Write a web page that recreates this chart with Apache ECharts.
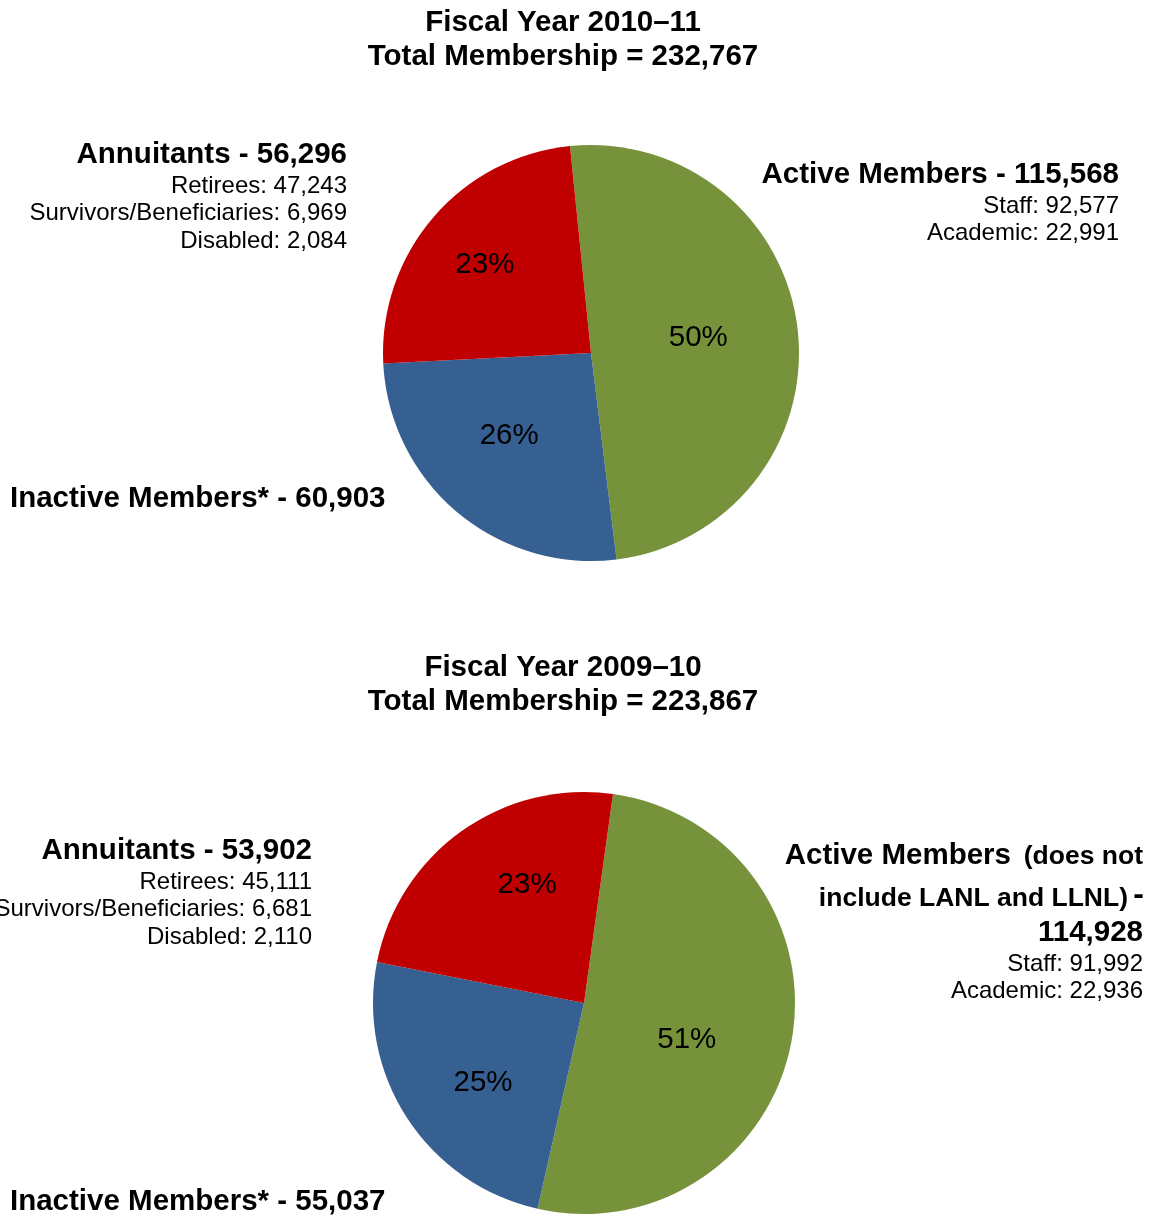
<!DOCTYPE html>
<html>
<head>
<meta charset="utf-8">
<script src="https://cdn.jsdelivr.net/npm/echarts@6/dist/echarts.min.js"></script>
<style>
  html, body { margin: 0; padding: 0; background: #fff; }
  #chart { width: 1152px; height: 1216px; }
</style>
</head>
<body>
<div id="chart"></div>
<script>
// Membership by category, two fiscal years
const categories = ['Active Members', 'Inactive Members*', 'Annuitants'];
const sliceColors = ['#76933C', '#366092', '#C00000'];

const fy1011Label = 'Fiscal Year 2010–11';
const fy1011Values = [115568, 60903, 56296];
const fy1011Pct = ['50%', '26%', '23%'];
const fy1011Active = { Staff: 92577, Academic: 22991 };
const fy1011Annuitants = { 'Retirees': 47243, 'Survivors/Beneficiaries': 6969, 'Disabled': 2084 };

const fy0910Label = 'Fiscal Year 2009–10';
const fy0910Values = [114928, 55037, 53902];
const fy0910Pct = ['51%', '25%', '23%'];
const fy0910Active = { Staff: 91992, Academic: 22936 };
const fy0910Annuitants = { 'Retirees': 45111, 'Survivors/Beneficiaries': 6681, 'Disabled': 2110 };

const FF = '"Liberation Sans", Arial, Helvetica, sans-serif';
const HEAD = 29.5;   // bold headings
const SUB = 24;      // detail lines
const fmt = v => v.toLocaleString('en-US');
const sum = a => a.reduce((s, v) => s + v, 0);

function txt(x, y, text, size, bold, align) {
  return {
    type: 'text', x: x, y: y + 2, silent: true,
    style: {
      text: text, fill: '#000',
      font: (bold ? 'bold ' : '') + size + 'px ' + FF,
      align: align || 'left', verticalAlign: 'middle'
    }
  };
}

function pieSeries(values, pct, center, radius, startAngle, shifts) {
  return {
    type: 'pie',
    center: center,
    radius: radius,
    startAngle: startAngle,
    clockwise: true,
    silent: true,
    animation: false,
    itemStyle: { borderWidth: 0 },
    emphasis: { disabled: true },
    label: {
      show: true, position: 'inside',
      color: '#000', fontSize: HEAD, fontFamily: FF, fontWeight: 'normal',
      formatter: p => pct[p.dataIndex]
    },
    labelLine: { show: false },
    labelLayout: p => ({ dx: shifts[p.dataIndex][0], dy: shifts[p.dataIndex][1] }),
    data: values.map((v, i) => ({ name: categories[i], value: v, itemStyle: { color: sliceColors[i] } }))
  };
}

const graphics = [];
// Upper chart texts
graphics.push(txt(563, 21, fy1011Label, HEAD, true, 'center'));
graphics.push(txt(563, 55, 'Total Membership = ' + fmt(sum(fy1011Values)), HEAD, true, 'center'));
graphics.push(txt(347, 153, categories[2] + ' - ' + fmt(fy1011Values[2]), HEAD, true, 'right'));
Object.keys(fy1011Annuitants).forEach((k, i) => {
  graphics.push(txt(347, 184 + i * 27.5, k + ': ' + fmt(fy1011Annuitants[k]), SUB, false, 'right'));
});
graphics.push(txt(1119, 173, categories[0] + ' - ' + fmt(fy1011Values[0]), HEAD, true, 'right'));
Object.keys(fy1011Active).forEach((k, i) => {
  graphics.push(txt(1119, 204 + i * 27.5, k + ': ' + fmt(fy1011Active[k]), SUB, false, 'right'));
});
graphics.push(txt(10, 497, categories[1] + ' - ' + fmt(fy1011Values[1]), HEAD, true, 'left'));

// Lower chart texts
graphics.push(txt(563, 666, fy0910Label, HEAD, true, 'center'));
graphics.push(txt(563, 700, 'Total Membership = ' + fmt(sum(fy0910Values)), HEAD, true, 'center'));
graphics.push(txt(312, 849, categories[2] + ' - ' + fmt(fy0910Values[2]), HEAD, true, 'right'));
Object.keys(fy0910Annuitants).forEach((k, i) => {
  graphics.push(txt(312, 880 + i * 27.5, k + ': ' + fmt(fy0910Annuitants[k]), SUB, false, 'right'));
});
graphics.push(txt(1011, 854, categories[0], HEAD, true, 'right'));
graphics.push(txt(1143, 855, '(does not', 26.5, true, 'right'));
graphics.push(txt(1128, 897, 'include LANL and LLNL)', 26.5, true, 'right'));
graphics.push(txt(1144, 893, '-', 32, true, 'right'));
graphics.push(txt(1143, 931, fmt(fy0910Values[0]), HEAD, true, 'right'));
Object.keys(fy0910Active).forEach((k, i) => {
  graphics.push(txt(1143, 962 + i * 27.5, k + ': ' + fmt(fy0910Active[k]), SUB, false, 'right'));
});
graphics.push(txt(10, 1200, categories[1] + ' - ' + fmt(fy0910Values[1]), HEAD, true, 'left'));

const chart = echarts.init(document.getElementById('chart'), null, { renderer: 'canvas' });
chart.setOption({
  animation: false,
  backgroundColor: '#fff',
  series: [
    pieSeries(fy1011Values, fy1011Pct, [591, 353], 208, 95.8, [[1, -3], [-13, 1], [-25, -18]]),
    pieSeries(fy0910Values, fy0910Pct, [584, 1003], 211, 82.1, [[-4, 17], [-10, 21], [6, -30]])
  ],
  graphic: graphics
});
</script>
</body>
</html>
